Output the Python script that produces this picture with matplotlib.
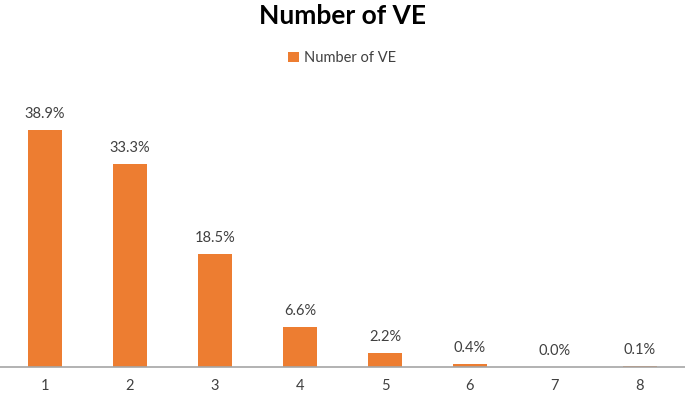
import numpy as np
import matplotlib
matplotlib.use('Agg')
from matplotlib import pyplot as plt

categories = ['1', '2', '3', '4', '5', '6', '7', '8']
values = [38.9, 33.3, 18.5, 6.6, 2.2, 0.4, 0.0, 0.1]

plt.rcParams['font.family'] = ['Lato', 'DejaVu Sans']

fig = plt.figure(figsize=(6.85, 3.97), dpi=100)
ax = fig.add_axes([0.0, 0.076, 1.0, 0.69])

x = np.arange(1, len(categories) + 1)
bars = ax.bar(x, values, width=0.39, color='#ED7D31', label='Number of VE')
for xi, v in zip(x, values):
    ax.text(xi, v + 1.5, f'{v:.1f}%', ha='center', va='bottom', fontsize=10.5, color='#404040')

ax.set_xlim(0.47, 8.53)
ax.set_ylim(0, 45)
ax.set_xticks(x)
ax.set_xticklabels(categories, fontsize=10.5, color='#404040')
ax.tick_params(axis='x', length=0, pad=9)
ax.set_yticks([])
for s in ['top', 'left', 'right']:
    ax.spines[s].set_visible(False)
ax.spines['bottom'].set_color('#A6A6A6')
ax.spines['bottom'].set_linewidth(1.2)

fig.text(0.5, 0.96, 'Number of VE', ha='center', va='center', fontsize=19, fontweight='bold', color='black')
fig.legend(handles=[bars], labels=['Number of VE'], loc='center', bbox_to_anchor=(0.5, 0.853),
           frameon=False, fontsize=10.5, handlelength=0.7, handleheight=0.7, handletextpad=0.4,
           labelcolor='#404040')

fig.savefig('out.png', dpi=100)
